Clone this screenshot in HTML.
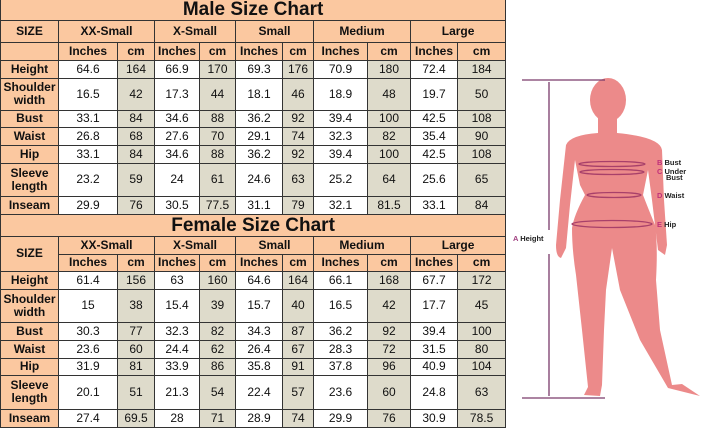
<!DOCTYPE html>
<html><head><meta charset="utf-8"><style>
body{margin:0;width:715px;height:428px;background:#fff;overflow:hidden;font-family:"Liberation Sans",Arial,sans-serif;position:relative}
table{border-collapse:collapse;table-layout:fixed;position:absolute;left:0;width:505px}
td{border:1px solid #333;text-align:center;padding:0;font-size:12px;color:#111;background:#fff;line-height:13px;overflow:hidden}
td.o{background:#fbc8a0;font-weight:bold}
td.g{background:#dedbcb}
td.t{background:#fbc8a0;font-weight:bold;font-size:19px;border-top:none}
</style></head><body>
<table style="top:0">
<colgroup><col style="width:58px"><col style="width:59px"><col style="width:37px"><col style="width:45px"><col style="width:36px"><col style="width:47px"><col style="width:31px"><col style="width:54px"><col style="width:43px"><col style="width:47px"><col style="width:48px"></colgroup>
<tr style="height:20px"><td colspan="11" class="t">Male Size Chart</td></tr>
<tr style="height:22px"><td class="o">SIZE</td><td class="o" colspan="2">XX-Small</td><td class="o" colspan="2">X-Small</td><td class="o" colspan="2">Small</td><td class="o" colspan="2">Medium</td><td class="o" colspan="2">Large</td></tr>
<tr style="height:18px"><td class="o"></td><td class="o">Inches</td><td class="o">cm</td><td class="o">Inches</td><td class="o">cm</td><td class="o">Inches</td><td class="o">cm</td><td class="o">Inches</td><td class="o">cm</td><td class="o">Inches</td><td class="o">cm</td></tr>
<tr style="height:18px"><td class="o">Height</td><td>64.6</td><td class="g">164</td><td>66.9</td><td class="g">170</td><td>69.3</td><td class="g">176</td><td>70.9</td><td class="g">180</td><td>72.4</td><td class="g">184</td></tr>
<tr style="height:32px"><td class="o">Shoulder width</td><td>16.5</td><td class="g">42</td><td>17.3</td><td class="g">44</td><td>18.1</td><td class="g">46</td><td>18.9</td><td class="g">48</td><td>19.7</td><td class="g">50</td></tr>
<tr style="height:17px"><td class="o">Bust</td><td>33.1</td><td class="g">84</td><td>34.6</td><td class="g">88</td><td>36.2</td><td class="g">92</td><td>39.4</td><td class="g">100</td><td>42.5</td><td class="g">108</td></tr>
<tr style="height:18px"><td class="o">Waist</td><td>26.8</td><td class="g">68</td><td>27.6</td><td class="g">70</td><td>29.1</td><td class="g">74</td><td>32.3</td><td class="g">82</td><td>35.4</td><td class="g">90</td></tr>
<tr style="height:18px"><td class="o">Hip</td><td>33.1</td><td class="g">84</td><td>34.6</td><td class="g">88</td><td>36.2</td><td class="g">92</td><td>39.4</td><td class="g">100</td><td>42.5</td><td class="g">108</td></tr>
<tr style="height:33px"><td class="o">Sleeve length</td><td>23.2</td><td class="g">59</td><td>24</td><td class="g">61</td><td>24.6</td><td class="g">63</td><td>25.2</td><td class="g">64</td><td>25.6</td><td class="g">65</td></tr>
<tr style="height:18px"><td class="o">Inseam</td><td>29.9</td><td class="g">76</td><td>30.5</td><td class="g">77.5</td><td>31.1</td><td class="g">79</td><td>32.1</td><td class="g">81.5</td><td>33.1</td><td class="g">84</td></tr>
<tr style="height:22px"><td colspan="11" class="t" style="border-top:1px solid #333">Female Size Chart</td></tr>
<tr style="height:18px"><td class="o" rowspan="2">SIZE</td><td class="o" colspan="2">XX-Small</td><td class="o" colspan="2">X-Small</td><td class="o" colspan="2">Small</td><td class="o" colspan="2">Medium</td><td class="o" colspan="2">Large</td></tr>
<tr style="height:17px"><td class="o">Inches</td><td class="o">cm</td><td class="o">Inches</td><td class="o">cm</td><td class="o">Inches</td><td class="o">cm</td><td class="o">Inches</td><td class="o">cm</td><td class="o">Inches</td><td class="o">cm</td></tr>
<tr style="height:18px"><td class="o">Height</td><td>61.4</td><td class="g">156</td><td>63</td><td class="g">160</td><td>64.6</td><td class="g">164</td><td>66.1</td><td class="g">168</td><td>67.7</td><td class="g">172</td></tr>
<tr style="height:33px"><td class="o">Shoulder width</td><td>15</td><td class="g">38</td><td>15.4</td><td class="g">39</td><td>15.7</td><td class="g">40</td><td>16.5</td><td class="g">42</td><td>17.7</td><td class="g">45</td></tr>
<tr style="height:18px"><td class="o">Bust</td><td>30.3</td><td class="g">77</td><td>32.3</td><td class="g">82</td><td>34.3</td><td class="g">87</td><td>36.2</td><td class="g">92</td><td>39.4</td><td class="g">100</td></tr>
<tr style="height:18px"><td class="o">Waist</td><td>23.6</td><td class="g">60</td><td>24.4</td><td class="g">62</td><td>26.4</td><td class="g">67</td><td>28.3</td><td class="g">72</td><td>31.5</td><td class="g">80</td></tr>
<tr style="height:17px"><td class="o">Hip</td><td>31.9</td><td class="g">81</td><td>33.9</td><td class="g">86</td><td>35.8</td><td class="g">91</td><td>37.8</td><td class="g">96</td><td>40.9</td><td class="g">104</td></tr>
<tr style="height:34px"><td class="o">Sleeve length</td><td>20.1</td><td class="g">51</td><td>21.3</td><td class="g">54</td><td>22.4</td><td class="g">57</td><td>23.6</td><td class="g">60</td><td>24.8</td><td class="g">63</td></tr>
<tr style="height:18px"><td class="o">Inseam</td><td>27.4</td><td class="g">69.5</td><td>28</td><td class="g">71</td><td>28.9</td><td class="g">74</td><td>29.9</td><td class="g">76</td><td>30.9</td><td class="g">78.5</td></tr>
</table>
<svg style="position:absolute;left:0;top:0" width="715" height="428" viewBox="0 0 715 428">
<g fill="#ec8a8a">
<ellipse cx="608" cy="100" rx="18" ry="22"/>
<path d="M598 116 L598 133 Q570 135 566 145 L560 200 L556 245 Q556 257 561 258 L566 248 L570 205 L575 160 L580 185 L585 195 Q574 215 572 228 Q572 250 576 275 L582 330 L588 387 L584 395 L600 396 L602 385 L604 330 L606 290 L612 248 L620 290 L640 340 L668 388 L700 396 L682 384 L672 385 L660 330 L656 280 Q658 245 655 225 Q648 208 643 195 L648 170 L652 200 L658 250 L665 255 L667 245 L664 200 L662 150 Q660 137 617 133 L617 116 Z"/>
</g>
<g fill="none" stroke="#a8406a" stroke-width="1.3">
<ellipse cx="612" cy="164" rx="33" ry="2.5"/><ellipse cx="612" cy="172" rx="32" ry="2.5"/>
<ellipse cx="614" cy="195" rx="27" ry="2.5"/><ellipse cx="612" cy="224" rx="40" ry="3.5"/>
</g>
<g stroke="#7a3a6a" stroke-width="1.3">
<line x1="522" y1="80" x2="605" y2="80"/><line x1="522" y1="398" x2="605" y2="398"/>
<line x1="549" y1="82" x2="549" y2="230"/><line x1="549" y1="254" x2="549" y2="396"/>
</g>
<g font-family="Liberation Sans,Arial,sans-serif" font-weight="bold" font-size="7.5" fill="#222">
<text x="657" y="165"><tspan fill="#c0307a">B</tspan> Bust</text>
<text x="657" y="174"><tspan fill="#c0307a">C</tspan> Under</text><text x="666" y="180">Bust</text>
<text x="657" y="198"><tspan fill="#c0307a">D</tspan> Waist</text>
<text x="657" y="227"><tspan fill="#c0307a">E</tspan> Hip</text>
<text x="513" y="241"><tspan fill="#a04080">A</tspan> Height</text>
</g>
</svg>
</body></html>
